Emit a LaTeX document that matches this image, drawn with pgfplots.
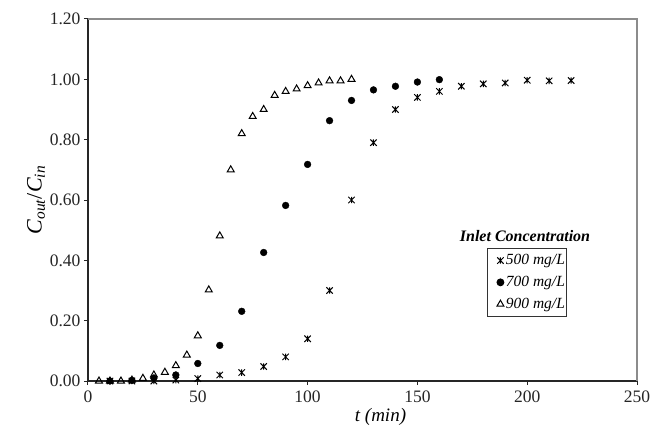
\documentclass[border=0pt]{standalone}
\usepackage{fontspec}
\setmainfont{Liberation Serif}
\usepackage{pgfplots}
\pgfplotsset{compat=1.18}

% Excel-style star: a cross with a vertical bar through it
\pgfdeclareplotmark{xstar}{%
  \pgfpathmoveto{\pgfqpoint{-\pgfplotmarksize}{-\pgfplotmarksize}}%
  \pgfpathlineto{\pgfqpoint{\pgfplotmarksize}{\pgfplotmarksize}}%
  \pgfpathmoveto{\pgfqpoint{-\pgfplotmarksize}{\pgfplotmarksize}}%
  \pgfpathlineto{\pgfqpoint{\pgfplotmarksize}{-\pgfplotmarksize}}%
  \pgfpathmoveto{\pgfqpoint{0pt}{-\pgfplotmarksize}}%
  \pgfpathlineto{\pgfqpoint{0pt}{\pgfplotmarksize}}%
  \pgfusepathqstroke}

\begin{document}
\begin{tikzpicture}
\begin{axis}[
    name=ax,
    scale only axis,
    width=549pt, height=362pt,
    xmin=0, xmax=250, ymin=0, ymax=1.2,
    axis x line*=bottom, axis y line*=left,
    axis line style={line width=1.3pt, black!85},
    xtick={0,50,...,250},
    ytick={0,0.2,...,1.2},
    tick align=outside,
    major tick length=4pt,
    tick style={line width=1pt, black!85},
    /pgf/number format/assume math mode=true,
    yticklabel style={/pgf/number format/fixed, /pgf/number format/fixed zerofill, /pgf/number format/precision=2},
    ticklabel style={font=\fontsize{17.5}{20}\selectfont, text=black!85},
    xticklabel style={yshift=-2pt},
    xlabel={\textit{t (min)}},
    xlabel style={font=\fontsize{19}{22}\selectfont, xshift=18pt, yshift=1pt},
    ylabel={\textit{C}\textsubscript{\textit{out}}/\textit{C}\textsubscript{\textit{in}}},
    ylabel style={font=\fontsize{22}{26}\selectfont, yshift=-2pt},
    legend style={at={(rel axis cs:0.727,0.367)}, anchor=north west,
        draw=black!80, line width=1pt,
        font=\fontsize{15.5}{18}\selectfont\itshape,
        row sep=6pt, inner xsep=0pt, inner ysep=4pt},
    legend image code/.code={\path[draw=none] (0,0) -- (0.55cm,0); \draw[#1] plot[only marks] coordinates {(0.45cm,0cm)};},
    legend cell align=left,
    clip=false,
]
\addplot[only marks, mark=xstar, mark size=3.2pt, mark options={line width=1pt, black}] coordinates {
(10,0) (20,0) (30,0) (40,0.003) (50,0.008) (60,0.02) (70,0.028) (80,0.048)
(90,0.08) (100,0.14) (110,0.30) (120,0.60) (130,0.79) (140,0.90) (150,0.94)
(160,0.96) (170,0.977) (180,0.985) (190,0.988) (200,0.997) (210,0.995) (220,0.996)
};
\addplot[only marks, mark=*, mark size=3.4pt, mark options={black, fill=black}] coordinates {
(10,0) (20,0.002) (30,0.01) (40,0.02) (50,0.058) (60,0.118) (70,0.231) (80,0.426)
(90,0.582) (100,0.718) (110,0.863) (120,0.930) (130,0.965) (140,0.977) (150,0.991) (160,0.999)
};
\addplot[only marks, mark=triangle, mark size=4pt, mark options={black, line width=1pt}] coordinates {
(5,0) (10,0) (15,0) (20,0.003) (25,0.009) (30,0.02) (35,0.029) (40,0.051) (45,0.086)
(50,0.150) (55,0.302) (60,0.481) (65,0.70) (70,0.82) (75,0.877) (80,0.90) (85,0.947)
(90,0.96) (95,0.968) (100,0.979) (105,0.988) (110,0.995) (115,0.995) (120,1.0)
};
\legend{500 mg/L, 700 mg/L, 900 mg/L}
\draw[black!45, line width=1.5pt] (rel axis cs:0,1) -- (rel axis cs:1,1) -- (rel axis cs:1,0);
\node[font=\fontsize{16}{19}\selectfont\bfseries\itshape] at (rel axis cs:0.796,0.40) {Inlet Concentration};
\end{axis}
\pgfresetboundingbox
\path[use as bounding box] ([xshift=-88pt,yshift=-61pt]ax.south west) rectangle ([xshift=19pt,yshift=19pt]ax.north east);
\end{tikzpicture}
\end{document}
